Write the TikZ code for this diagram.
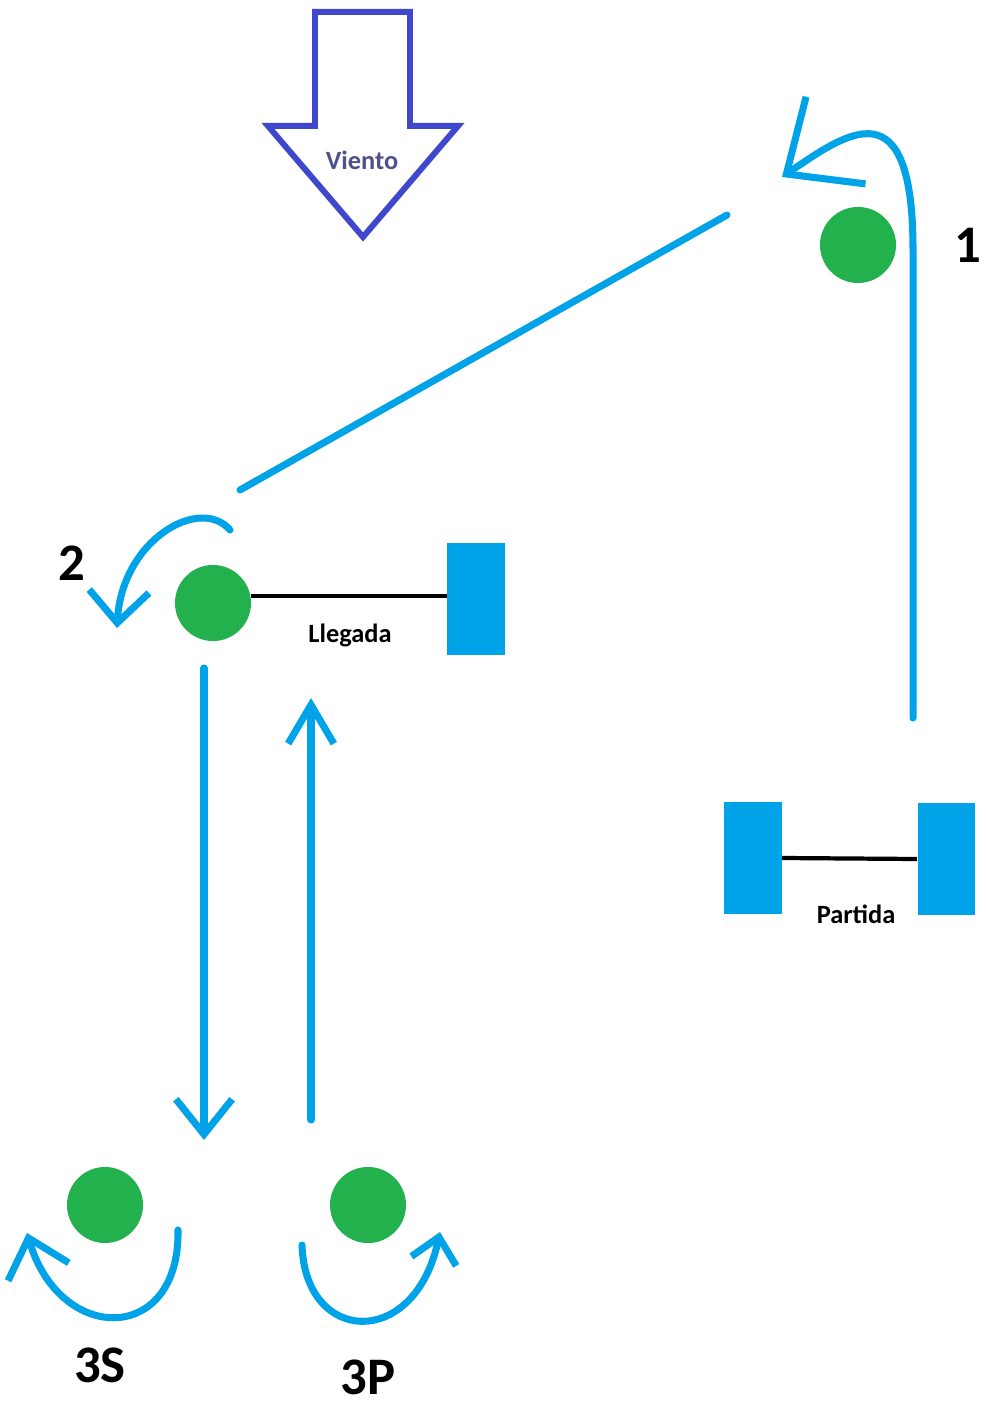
\documentclass[tikz,border=0pt]{standalone}
\usepackage{fontspec}
\setmainfont{Carlito}
\usetikzlibrary{arrows.meta}
\definecolor{paintblue}{RGB}{0,162,232}
\definecolor{paintgreen}{RGB}{34,177,76}
\definecolor{windblue}{RGB}{63,72,204}
\definecolor{windtext}{RGB}{80,80,140}
\tikzstyle{ball} = [circle, minimum size=0.76cm, inner sep=0pt, fill=paintgreen]
\tikzstyle{flag} = [rectangle, minimum width=0.57cm, minimum height=1.11cm, inner sep=0pt, fill=paintblue]
\tikzstyle{course} = [line width=2pt, draw=paintblue, line cap=round, line join=round]
\tikzstyle{rope} = [line width=1.2pt, draw=black]
\tikzstyle{bignum} = [font=\bfseries\fontsize{15}{18}\selectfont, inner sep=0pt]
\tikzstyle{smalltxt} = [font=\bfseries\fontsize{7.5}{9}\selectfont, inner sep=0pt]

\begin{document}
\begin{tikzpicture}[x=0.01cm, y=-0.01cm]
\useasboundingbox (0,0) rectangle (986,1404);
% wind
\draw [windblue, line width=1.7pt, line join=miter] (315,12) -- (410,12) -- (410,126) -- (458,126) -- (363,237) -- (268,126) -- (315,126) -- cycle;
\node (wind) [font=\bfseries\fontsize{7.5}{8}\selectfont, text=windtext] at (362,160) {Viento};
% marks
\node (c1) [ball] at (858,245) {};
\node (c2) [ball] at (213,603) {};
\node (c3s) [ball] at (105,1205) {};
\node (c3p) [ball] at (368,1205) {};
\node (n1) [bignum] at (968,245) {1};
\node (n2) [bignum] at (72,563) {2};
\node (n3s) [bignum] at (100,1365) {3S};
\node (n3p) [bignum] at (368,1377) {3P};
% finish and start lines
\node (fin) [flag] at (476,599) {};
\node (pl) [flag] at (753,858) {};
\node (pr) [flag] at (946,859) {};
\node (tfin) [smalltxt] at (350,635) {Llegada};
\node (tstart) [smalltxt] at (856,914) {Partida};
\draw [rope] (c2.10) -- (c2.10 -| fin.west);
\draw [rope] (pl.east) -- (pr.west);
% course
\coordinate (s1) at (913,718);
\coordinate (e1) at (782,177);
\coordinate (d1) at (727,215);
\coordinate (d2) at (240,490);
\coordinate (s2) at (230,530);
\coordinate (e2) at (117,628);
\coordinate (dn1) at (204,668);
\coordinate (dn2) at (204,1140);
\coordinate (up1) at (311,1120);
\coordinate (up2) at (311,698);
\coordinate (s3s) at (178,1230);
\coordinate (e3s) at (27,1233);
\coordinate (s3p) at (302,1245);
\coordinate (e3p) at (440,1232);
\draw [course, -{Straight Barb[length=17pt, width=30pt]}] (s1) -- (913,250) .. controls (913,85) and (848,132) .. (e1);
\draw [course] (d1) -- (d2);
\draw [course, -{Straight Barb[length=9pt, width=17pt]}] (s2) .. controls (200,495) and (122,540) .. (e2);
\draw [course, -{Straight Barb[length=10pt, width=16pt]}] (dn1) -- (dn2);
\draw [course, -{Straight Barb[length=11pt, width=13pt]}] (up1) -- (up2);
\draw [course, -{Straight Barb[length=10pt, width=18pt]}] (s3s) .. controls (180,1345) and (60,1345) .. (e3s);
\draw [course, -{Straight Barb[length=7pt, width=13pt]}] (s3p) .. controls (305,1345) and (415,1350) .. (e3p);
\end{tikzpicture}
\end{document}
